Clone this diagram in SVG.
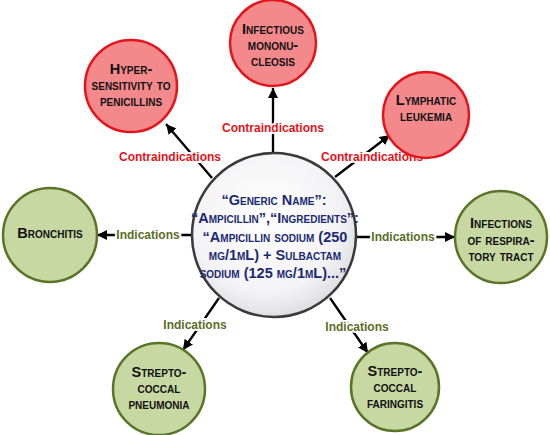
<svg xmlns="http://www.w3.org/2000/svg" width="550" height="435" viewBox="0 0 550 435">
<defs>
<marker id="arr" viewBox="0 0 10 10" refX="10" refY="5" markerWidth="4.4" markerHeight="4.4" orient="auto" markerUnits="strokeWidth">
<path d="M0,0 L10,5 L0,10 z" fill="#000"/>
</marker>
<radialGradient id="cg" cx="0.45" cy="0.4" r="0.65">
<stop offset="0" stop-color="#ffffff"/>
<stop offset="0.7" stop-color="#f3f3f5"/>
<stop offset="1" stop-color="#d9d9dc"/>
</radialGradient>
<style>
.ln{stroke:#000;stroke-width:2.3;fill:none}
.red{fill:#f4898c;stroke:#e3141b;stroke-width:2.5}
.grn{fill:#c8d8a2;stroke:#5a7428;stroke-width:2.5}
.nt{font-family:"Liberation Sans",Arial,sans-serif;font-weight:bold;font-size:14.5px;font-variant:small-caps;fill:#111;text-anchor:middle;dominant-baseline:central}
.lb{font-family:"Liberation Sans",Arial,sans-serif;font-weight:bold;font-size:12px;text-anchor:middle;dominant-baseline:central;paint-order:stroke;stroke:#fff;stroke-width:4px}
.lr{fill:#e3141b}
.lg{fill:#5b6e28}
.ct{font-family:"Liberation Sans",Arial,sans-serif;font-weight:bold;font-size:14.5px;font-variant:small-caps;fill:#1b2a72;text-anchor:middle;dominant-baseline:central}
</style>
</defs>
<g id="connectors">
<line class="ln" x1="273" y1="153" x2="273" y2="88" marker-end="url(#arr)"/>
<line class="ln" x1="212" y1="178" x2="166" y2="124" marker-end="url(#arr)"/>
<line class="ln" x1="335" y1="177" x2="390" y2="135" marker-end="url(#arr)"/>
<line class="ln" x1="192" y1="235" x2="97" y2="235" marker-end="url(#arr)"/>
<line class="ln" x1="356" y1="237" x2="455" y2="237" marker-end="url(#arr)"/>
<line class="ln" x1="219" y1="298" x2="183" y2="350" marker-end="url(#arr)"/>
<line class="ln" x1="330" y1="298" x2="368" y2="353" marker-end="url(#arr)"/>
<text class="lb lr" x="273" y="128">Contraindications</text>
<text class="lb lr" x="170" y="157">Contraindications</text>
<text class="lb lr" x="372" y="157">Contraindications</text>
<text class="lb lg" x="148" y="235">Indications</text>
<text class="lb lg" x="403" y="237">Indications</text>
<text class="lb lg" x="195" y="325">Indications</text>
<text class="lb lg" x="357" y="327">Indications</text>
</g>
<g id="center">
<circle cx="274" cy="235" r="82" fill="url(#cg)" stroke="#3a3a3a" stroke-width="2.5"/>
<text class="ct" x="274" y="200">“Generic Name”:</text>
<text class="ct" x="275" y="218">“Ampicillin”,“Ingredients”:</text>
<text class="ct" x="275" y="237">“Ampicillin sodium (250</text>
<text class="ct" x="275" y="255">mg/1mL) + Sulbactam</text>
<text class="ct" x="273" y="273">sodium (125 mg/1mL)...”</text>
</g>
<g id="hypersensitivity">
<circle class="red" cx="131" cy="86" r="46"/>
<text class="nt" x="131" y="69">Hyper-</text>
<text class="nt" x="131" y="85">sensitivity to</text>
<text class="nt" x="131" y="101">penicillins</text>
</g>
<g id="mononucleosis">
<circle class="red" cx="273" cy="43" r="43"/>
<text class="nt" x="273" y="29">Infectious</text>
<text class="nt" x="273" y="45">mononu-</text>
<text class="nt" x="273" y="61">cleosis</text>
</g>
<g id="leukemia">
<circle class="red" cx="426" cy="115" r="43"/>
<text class="nt" x="426" y="100">Lymphatic</text>
<text class="nt" x="426" y="116">leukemia</text>
</g>
<g id="bronchitis">
<circle class="grn" cx="50" cy="235" r="47"/>
<text class="nt" x="50" y="233">Bronchitis</text>
</g>
<g id="respiratory">
<circle class="grn" cx="501" cy="237" r="46"/>
<text class="nt" x="501" y="223">Infections</text>
<text class="nt" x="501" y="240">of respira-</text>
<text class="nt" x="501" y="256">tory tract</text>
</g>
<g id="pneumonia">
<circle class="grn" cx="159" cy="389" r="46"/>
<text class="nt" x="159" y="372">Strepto-</text>
<text class="nt" x="159" y="388">coccal</text>
<text class="nt" x="159" y="404">pneumonia</text>
</g>
<g id="faringitis">
<circle class="grn" cx="395" cy="387" r="44"/>
<text class="nt" x="395" y="371">Strepto-</text>
<text class="nt" x="395" y="387">coccal</text>
<text class="nt" x="395" y="403">faringitis</text>
</g>
</svg>
